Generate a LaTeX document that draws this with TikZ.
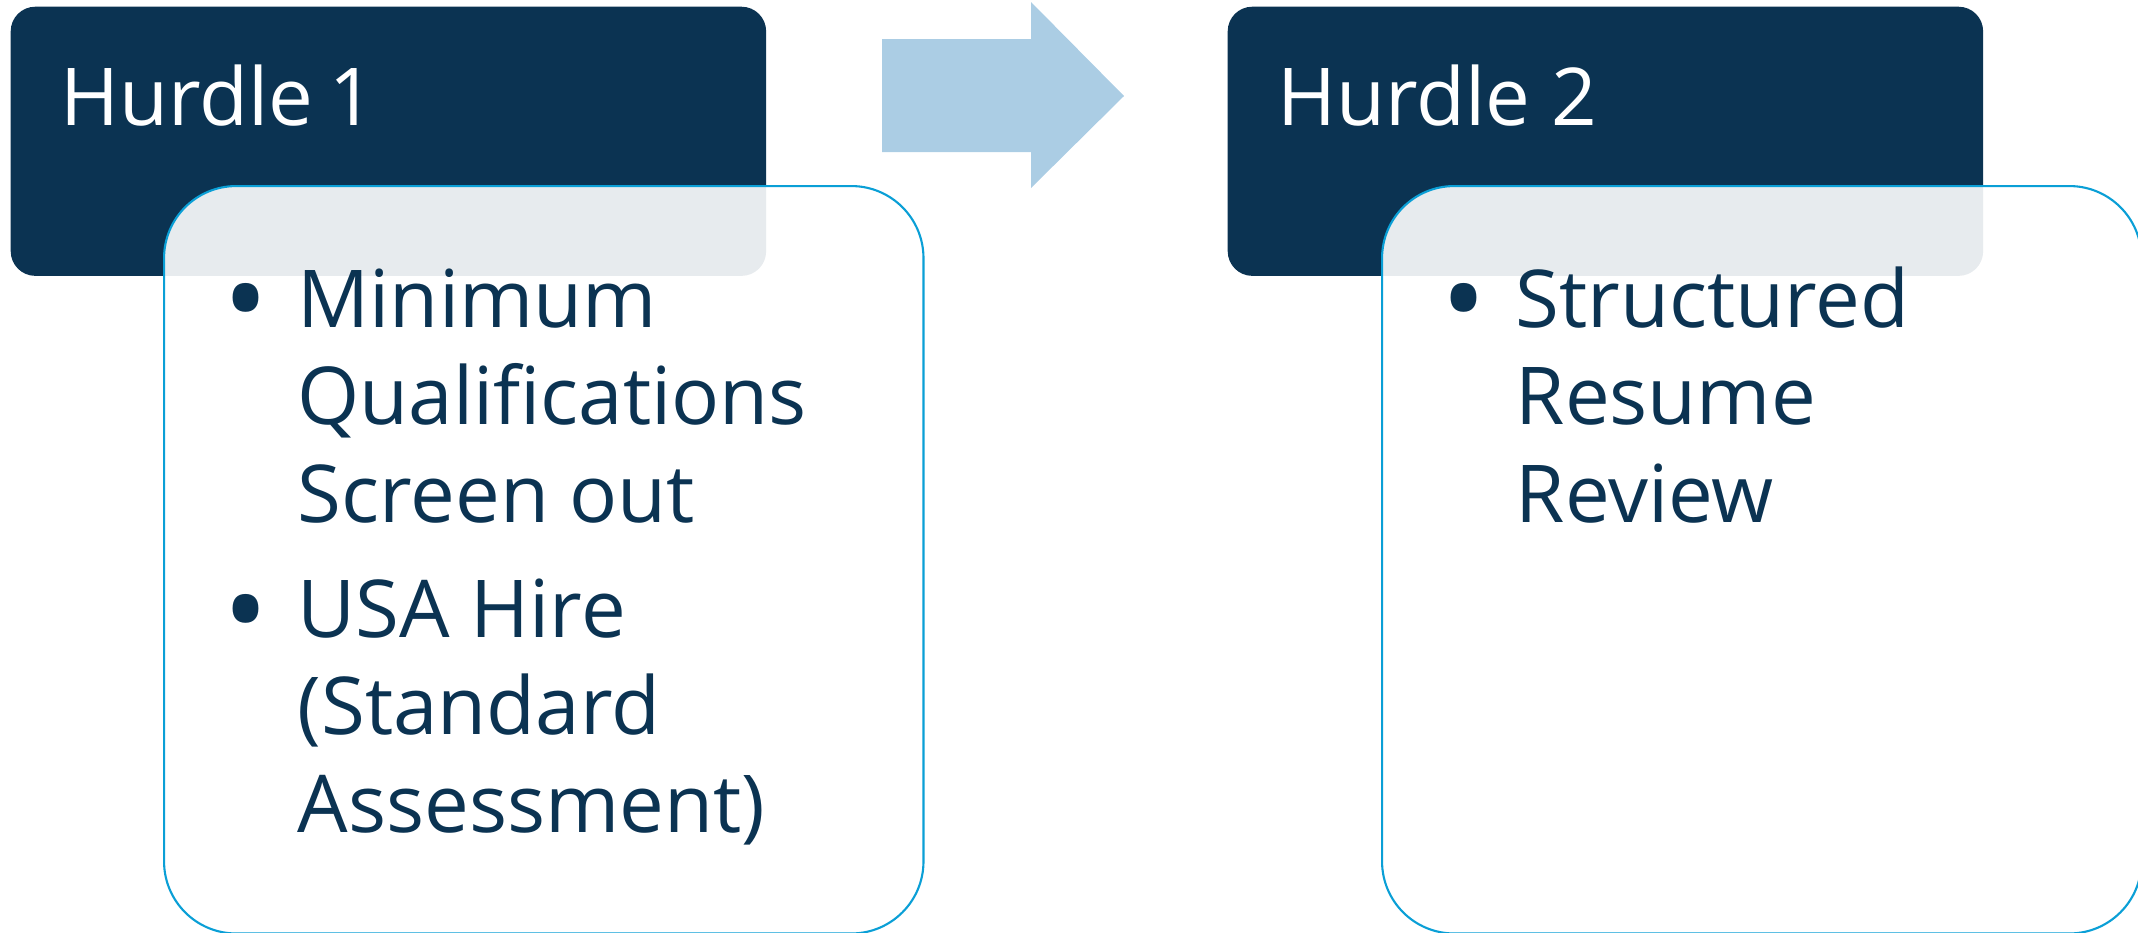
\documentclass[tikz,border=0pt]{standalone}
\usepackage{fontspec}
\setmainfont{Open Sans}[Numbers=Proportional]
\usepackage{xcolor}
\definecolor{navy}{HTML}{0B3352}
\definecolor{lineblue}{HTML}{0A9FD6}
\definecolor{arrowblue}{HTML}{ABCDE4}

\begin{document}
\begin{tikzpicture}[x=0.01cm, y=-0.01cm]
        % ================= styles =================
        \tikzset{
            % dark title box
            titlebox/.style={rectangle, rounded corners=7pt, fill=navy, anchor=north west,
                minimum width=7.55cm, minimum height=2.69cm, inner sep=0pt},
            % white content box, lets the title box show through
            listbox/.style={rectangle, rounded corners=20.5pt, draw=lineblue, line width=0.6pt,
                fill=white, fill opacity=0.9, text opacity=1, anchor=north west,
                minimum width=7.59cm, minimum height=7.47cm, inner sep=0pt},
            % texts (anchor sits on the last line)
            titletext/.style={anchor=base west, inner sep=0pt, text=white, font=\fontsize{22.7}{27.6}\selectfont},
            itemtext/.style={anchor=base west, inner sep=0pt, align=left, text=navy, font=\fontsize{22.7}{27.6}\selectfont},
            dot/.style={inner sep=0pt, text=navy, font=\fontsize{34}{34}\selectfont}
        }
        \useasboundingbox (0,0) rectangle (2138,933);

        % ================= hurdle 1 =================
        \node[titlebox] (h1) at (10,6) {};
        \node[titletext] (h1t) at (60,125) {Hurdle 1};
        \node[listbox] (b1) at (163,185) {};

        % ================= arrow =================
        \fill[arrowblue] (882,39) -- (1031,39) -- (1031,2) -- (1124,96) -- (1031,188) -- (1031,152) -- (882,152) -- cycle;

        % ================= hurdle 2 =================
        \node[titlebox] (h2) at (1227,6) {};
        \node[titletext] (h2t) at (1277,125) {Hurdle 2};
        \node[listbox] (b2) at (1381,185) {};

        % ================= bullet lists =================
        \node[dot] (d1) at (246,312) {•};
        \node[itemtext] (i1) at (297,522) {Minimum\\Qualifications\\Screen out};
        \node[dot] (d2) at (246,623) {•};
        \node[itemtext] (i2) at (297,832) {USA Hire\\(Standard\\Assessment)};

        \node[dot] (d3) at (1464,312) {•};
        \node[itemtext] (i3) at (1515,522) {Structured\\Resume\\Review};

    \end{tikzpicture}
\end{document}
